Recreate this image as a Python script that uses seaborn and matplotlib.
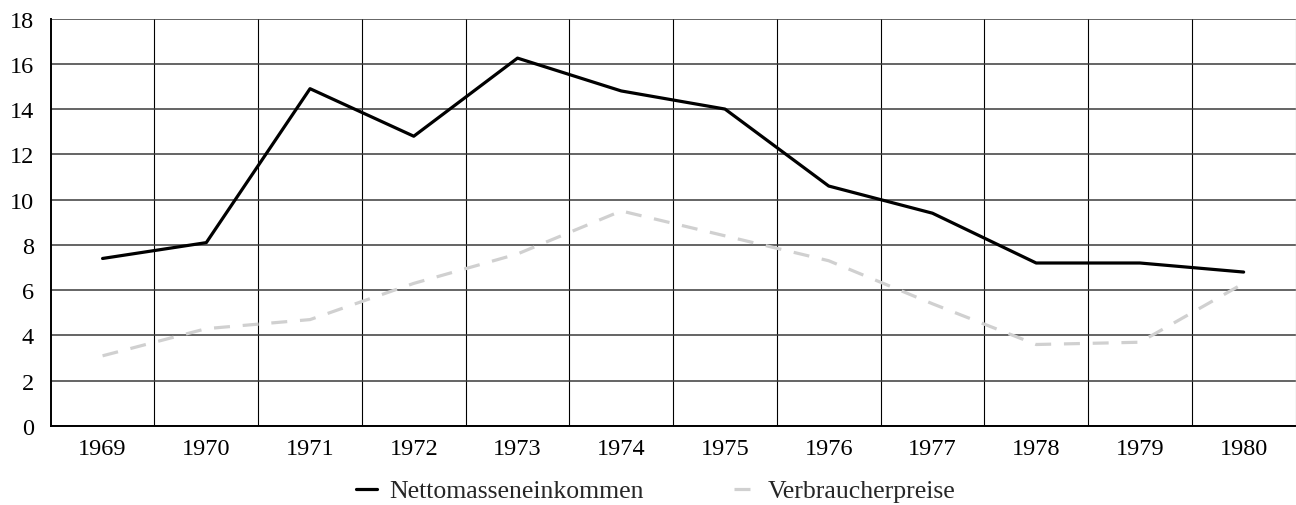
import matplotlib
matplotlib.use("Agg")
import matplotlib.pyplot as plt
from matplotlib.ticker import FixedLocator
import seaborn as sns
import pandas as pd
import numpy as np

years = ["1969", "1970", "1971", "1972", "1973", "1974", "1975", "1976", "1977", "1978", "1979", "1980"]
netto = [7.4, 8.1, 14.9, 12.8, 16.25, 14.8, 14.0, 10.6, 9.4, 7.2, 7.2, 6.8]
preise = [3.1, 4.3, 4.7, 6.3, 7.6, 9.5, 8.4, 7.3, 5.4, 3.6, 3.7, 6.3]
series_names = ["Nettomasseneinkommen", "Verbraucherpreise"]

df = pd.DataFrame({
    "Jahr": years * 2,
    "Wert": netto + preise,
    "Reihe": [series_names[0]] * len(years) + [series_names[1]] * len(years),
})

sns.set_style("white")
plt.rcParams["font.family"] = ["Liberation Serif", "DejaVu Serif"]

fig = plt.figure(figsize=(12.96, 5.06), dpi=100)
ax = fig.add_axes([50.7 / 1296, 1 - 427 / 506, (1295.5 - 50.7) / 1296, (427 - 19.5) / 506])

sns.lineplot(
    data=df, x="Jahr", y="Wert", hue="Reihe", style="Reihe",
    palette={series_names[0]: "#000000", series_names[1]: "#d0d0d0"},
    dashes={series_names[0]: "", series_names[1]: (5, 4)},
    linewidth=2.3, ax=ax, legend=True, sort=False,
)

ax.set_xlim(-0.5, len(years) - 0.5)
ax.set_ylim(0, 18)
ax.set_yticks(np.arange(0, 19, 2))
ax.xaxis.set_minor_locator(FixedLocator(np.arange(0.5, len(years) - 0.5, 1)))
ax.grid(False)
ax.grid(axis="y", which="major", color="#3a3a3a", linewidth=1.1)
ax.grid(axis="x", which="minor", color="#000000", linewidth=0.8)
ax.set_axisbelow(True)

ax.set_xlabel("")
ax.set_ylabel("")
ax.tick_params(axis="both", which="both", length=0, labelsize=17.5, colors="#000000")
ax.tick_params(axis="y", pad=12)
ax.tick_params(axis="x", pad=9)

for s in ["left", "bottom"]:
    ax.spines[s].set_visible(True)
    ax.spines[s].set_color("#000000")
    ax.spines[s].set_linewidth(1.4)
ax.spines["top"].set_visible(False)
ax.spines["right"].set_color("#cccccc")
ax.spines["right"].set_linewidth(1.0)

handles, labels = ax.get_legend_handles_labels()
ax.get_legend().remove()
fig.legend(
    handles, labels, loc="center", bbox_to_anchor=(0.506, 1 - 492 / 506),
    ncol=2, frameon=False, fontsize=18.5, handlelength=0.8, handletextpad=0.5,
    columnspacing=3.5,
)

fig.savefig("out.png", dpi=100)
